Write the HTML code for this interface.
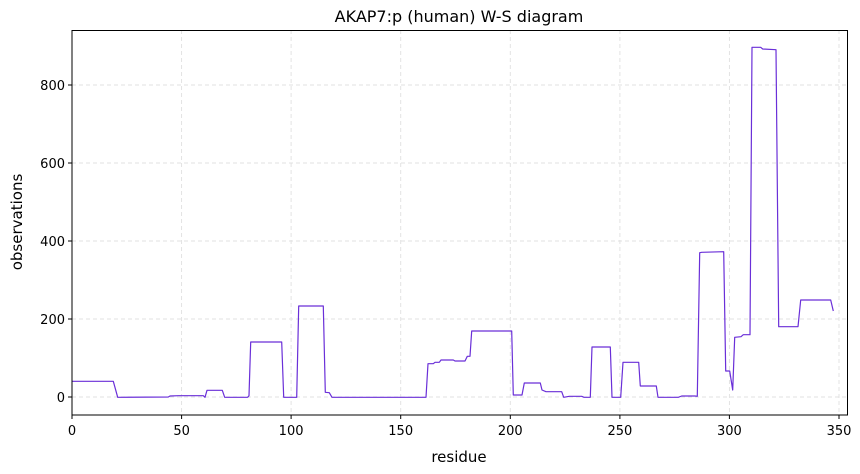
<!DOCTYPE html>
<html><head><meta charset="utf-8"><style>body{margin:0;background:#fff}svg{display:block;font-family:"DejaVu Sans","Liberation Sans",sans-serif}</style></head>
<body>
<svg width="860" height="474" viewBox="0 0 860 474" xmlns="http://www.w3.org/2000/svg">
<rect width="860" height="474" fill="#fff"/>
<g stroke="#e0e0e0" stroke-width="0.9" stroke-dasharray="4,3">
<line x1="181.6" y1="30" x2="181.6" y2="415"/><line x1="291.1" y1="30" x2="291.1" y2="415"/><line x1="400.7" y1="30" x2="400.7" y2="415"/><line x1="510.3" y1="30" x2="510.3" y2="415"/><line x1="619.9" y1="30" x2="619.9" y2="415"/><line x1="729.4" y1="30" x2="729.4" y2="415"/><line x1="839" y1="30" x2="839" y2="415"/>
<line x1="72" y1="397" x2="847" y2="397"/><line x1="72" y1="319" x2="847" y2="319"/><line x1="72" y1="241" x2="847" y2="241"/><line x1="72" y1="163" x2="847" y2="163"/><line x1="72" y1="85" x2="847" y2="85"/>
</g>
<polyline fill="none" stroke="#6a2fd8" stroke-width="1.2" stroke-linejoin="round" points="72,381.3 113.3,381.3 117.7,397.3 168.3,397 170,396 178.3,395.7 203.3,395.7 205,397.3 207,390.3 222.3,390.3 224.7,397.3 247.7,397.3 249,395.7 250.7,342 281.7,342 283.7,397.3 296.7,397.3 298.7,306 323.3,306 325.3,392.3 329.3,392.7 332,397.3 426,397.3 428,363.7 433.3,363.7 435,362.3 439.3,362.3 441,360 453.3,360 455,361 465,361 467.3,356.3 470,356.3 471.7,331 511.7,331 513.3,395 522,395 524.3,383 540.3,383 542,390 546,391.7 561.7,391.7 563.7,397.3 569.3,396.3 581.7,396.3 584,397.3 590.3,397.3 592,347 610.3,347 612,397.3 620.7,397.3 623,362.3 638.7,362.3 640.3,386 656.3,386 658,397.3 678.3,397.3 681.7,396 695,396 697.3,396.3 699.7,252.7 701.7,252.3 723.7,251.7 725.7,371 729.7,371 732.7,390 734.7,337.3 741,336.7 743.3,334.7 750,334.7 752,47.3 760.7,47.3 762.7,49 776,49.7 778.7,326.7 798,326.7 800.7,300 830.7,300 833.3,311"/>
<rect x="72" y="30.5" width="775.5" height="384.5" fill="none" stroke="#000" stroke-width="1"/>
<g stroke="#000" stroke-width="1">
<line x1="72" y1="415" x2="72" y2="419"/><line x1="181.6" y1="415" x2="181.6" y2="419"/><line x1="291.1" y1="415" x2="291.1" y2="419"/><line x1="400.7" y1="415" x2="400.7" y2="419"/><line x1="510.3" y1="415" x2="510.3" y2="419"/><line x1="619.9" y1="415" x2="619.9" y2="419"/><line x1="729.4" y1="415" x2="729.4" y2="419"/><line x1="839" y1="415" x2="839" y2="419"/>
<line x1="68" y1="397" x2="72" y2="397"/><line x1="68" y1="319" x2="72" y2="319"/><line x1="68" y1="241" x2="72" y2="241"/><line x1="68" y1="163" x2="72" y2="163"/><line x1="68" y1="85" x2="72" y2="85"/>
</g>
<g font-size="13" fill="#000" text-anchor="middle">
<text x="72" y="435">0</text><text x="181.6" y="435">50</text><text x="291.1" y="435">100</text><text x="400.7" y="435">150</text><text x="510.3" y="435">200</text><text x="619.9" y="435">250</text><text x="729.4" y="435">300</text><text x="839" y="435">350</text>
</g>
<g font-size="13" fill="#000" text-anchor="end">
<text x="65" y="402">0</text><text x="65" y="324">200</text><text x="65" y="246">400</text><text x="65" y="168">600</text><text x="65" y="90">800</text>
</g>
<text x="459" y="462" font-size="15" text-anchor="middle">residue</text>
<text transform="translate(22,222) rotate(-90)" font-size="15" text-anchor="middle">observations</text>
<text x="459" y="22" font-size="16" text-anchor="middle">AKAP7:p (human) W-S diagram</text>
</svg>
</body></html>
